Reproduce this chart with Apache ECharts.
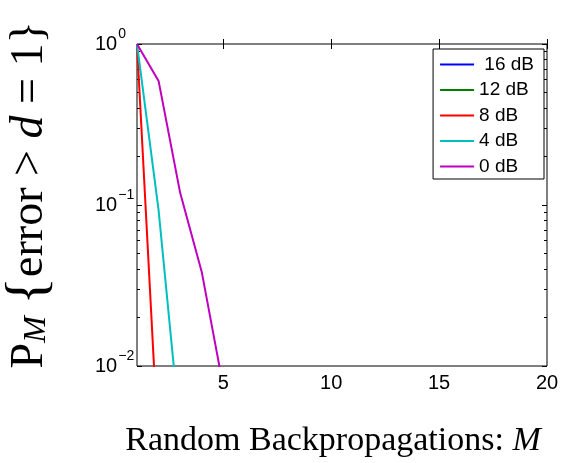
<!DOCTYPE html>
<html>
<head>
<meta charset="utf-8">
<script src="https://cdn.jsdelivr.net/npm/echarts@6/dist/echarts.min.js"></script>
<style>
  html, body { margin: 0; padding: 0; background: #fff; }
  #chart { width: 562px; height: 463px; }
</style>
</head>
<body>
<div id="chart"></div>
<script>
// number of random backpropagations
const M = [1, 2, 3, 4, 5];

// P_M{error > d = 1} per SNR, null where the curve has dropped to zero
const p16dB = [1, null, null, null, null];
const p12dB = [1, null, null, null, null];
const p8dB = [1, 0.0029, null, null, null];
const p4dB = [1, 0.093, 0.0039, null, null];
const p0dB = [1, 0.59, 0.119, 0.0384, 0.0074];

const seriesNames = [' 16 dB', '12 dB', '8 dB', '4 dB', '0 dB'];
const seriesColors = ['#0000ff', '#008000', '#ff0000', '#00bfbf', '#bf00bf'];
const seriesValues = [p16dB, p12dB, p8dB, p4dB, p0dB];

const xTicks = [5, 10, 15, 20];
const yMinorTicks = [0.02, 0.03, 0.04, 0.05, 0.06, 0.07, 0.08, 0.09,
                     0.2, 0.3, 0.4, 0.5, 0.6, 0.7, 0.8, 0.9];

const chart = echarts.init(document.getElementById('chart'));

const sansFont = '"Liberation Sans", Arial, sans-serif';
const serifFont = '"Liberation Serif", "Times New Roman", serif';

const minorLog = yMinorTicks.map((v) => Math.log10(v));

const minorAxis = (position) => ({
  type: 'value',
  min: -2,
  max: 0,
  position: position,
  axisLine: { show: false },
  splitLine: { show: false },
  axisLabel: { show: false, customValues: minorLog },
  axisTick: { inside: true, length: 3, customValues: minorLog, lineStyle: { color: '#000' } },
});

const option = {
  backgroundColor: '#fff',
  animation: false,
  grid: {
    left: 137,
    right: 15,
    top: 44,
    bottom: 97,
    outerBoundsMode: 'none',
    containLabel: false,
    show: true,
    borderColor: '#000',
    borderWidth: 1,
    backgroundColor: '#fff',
  },
  legend: {
    data: seriesNames,
    orient: 'vertical',
    right: 18,
    top: 49,
    icon: 'rect',
    itemWidth: 34,
    itemHeight: 2,
    itemGap: 6.5,
    padding: [6, 10, 3, 7],
    borderColor: '#000',
    borderWidth: 1,
    borderRadius: 0,
    backgroundColor: '#fff',
    textStyle: { fontFamily: sansFont, fontSize: 19, color: '#000', lineHeight: 17 },
  },
  xAxis: [
    {
      type: 'value',
      min: 1,
      max: 20,
      position: 'bottom',
      axisLine: { show: false },
      splitLine: { show: false },
      axisTick: { inside: true, length: 5, customValues: xTicks, lineStyle: { color: '#000' } },
      axisLabel: {
        customValues: xTicks,
        margin: 7,
        fontFamily: sansFont,
        fontSize: 20,
        color: '#000',
      },
      name: 'Random Backpropagations: {it|M}',
      nameLocation: 'middle',
      nameGap: 58,
      nameTextStyle: {
        fontFamily: serifFont,
        fontSize: 34,
        color: '#000',
        padding: [0, 18, 0, 0],
        rich: {
          it: { fontFamily: serifFont, fontSize: 34, fontStyle: 'italic', color: '#000' },
        },
      },
    },
    {
      type: 'value',
      min: 1,
      max: 20,
      position: 'top',
      axisLine: { show: false },
      splitLine: { show: false },
      axisTick: { inside: true, length: 5, customValues: xTicks, lineStyle: { color: '#000' } },
      axisLabel: { show: false, customValues: xTicks },
    },
  ],
  yAxis: [
    {
      type: 'log',
      logBase: 10,
      min: 0.01,
      max: 1,
      position: 'left',
      axisLine: { show: false },
      splitLine: { show: false },
      axisTick: { inside: true, length: 5, lineStyle: { color: '#000' } },
      axisLabel: {
        align: 'left',
        margin: 42,
        fontFamily: sansFont,
        fontSize: 20,
        color: '#000',
        formatter: (v) => {
          const e = Math.round(Math.log10(v));
          return '10{sup|' + (e < 0 ? '\u2212' + -e : e) + '}';
        },
        rich: {
          sup: { fontFamily: sansFont, fontSize: 14, color: '#000', padding: [0, 0, 20, 1] },
        },
      },
      name: 'P{sub|M} {br|{}error > {it|d} = 1{br2|\u007d}',
      nameLocation: 'middle',
      nameRotate: 90,
      nameGap: 78,
      nameTextStyle: {
        fontFamily: serifFont,
        fontSize: 46,
        color: '#000',
        padding: [0, 0, 0, 20],
        rich: {
          sub: { fontFamily: serifFont, fontSize: 32, fontStyle: 'italic', color: '#000', padding: [14, 0, 0, 0] },
          br: { fontFamily: serifFont, fontSize: 58, color: '#000' },
          it: { fontFamily: serifFont, fontSize: 46, fontStyle: 'italic', color: '#000' },
        },
      },
    },
    {
      type: 'log',
      logBase: 10,
      min: 0.01,
      max: 1,
      position: 'right',
      axisLine: { show: false },
      splitLine: { show: false },
      axisTick: { inside: true, length: 5, lineStyle: { color: '#000' } },
      axisLabel: { show: false },
    },
    minorAxis('left'),
    minorAxis('right'),
  ],
  series: seriesNames.map((name, i) => ({
    name: name,
    type: 'line',
    xAxisIndex: 0,
    yAxisIndex: 0,
    symbol: 'none',
    clip: true,
    color: seriesColors[i],
    lineStyle: { width: 2, color: seriesColors[i] },
    data: M.map((m, j) => [m, seriesValues[i][j]]),
  })),
};

chart.setOption(option);
</script>
</body>
</html>
